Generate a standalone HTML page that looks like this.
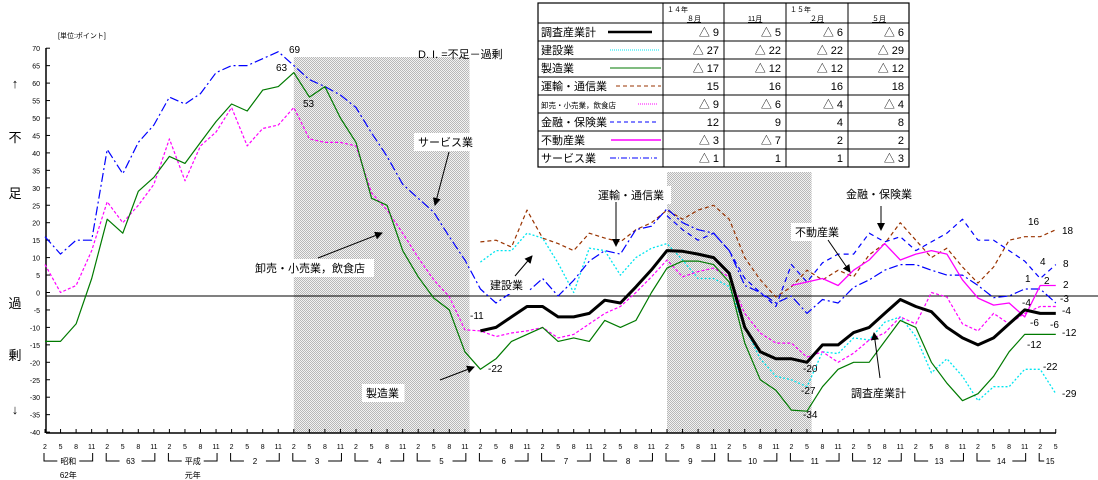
<!DOCTYPE html>
<html><head><meta charset="utf-8">
<style>
html,body{margin:0;padding:0;background:#fff;}
svg{display:block;font-family:"Liberation Sans","Noto Sans CJK JP",sans-serif;}
</style></head>
<body>
<svg id="chart" width="1098" height="480" viewBox="0 0 1098 480" xmlns="http://www.w3.org/2000/svg">
<defs>
<pattern id="shade" width="2" height="2" patternUnits="userSpaceOnUse">
<rect width="2" height="2" fill="#f2f2f2"/><rect width="1" height="1" fill="#b8b8b8"/><rect x="1" y="1" width="1" height="1" fill="#b8b8b8"/>
</pattern>
<marker id="ah" markerWidth="8" markerHeight="8" refX="7" refY="4" orient="auto" markerUnits="userSpaceOnUse"><path d="M0,0 L8,4 L0,8 z" fill="#000"/></marker>
</defs>
<g id="shades"></g>
<g id="axes"></g>
<g id="series"></g>
<g id="labels" font-size="11"></g>
</svg>
<script>
const NS="http://www.w3.org/2000/svg";
// ---- data ----
const yearLabels=["昭和","63","平成","2","3","4","5","6","7","8","9","10","11","12","13","14","15"];
const monthLabels=["2","5","8","11"];
const yTicks=[70,65,60,55,50,45,40,35,30,25,20,15,10,5,0,-5,-10,-15,-20,-25,-30,-35,-40];
const N=null;
const totalVals=[N,N,N,N,N,N,N,N,N,N,N,N,N,N,N,N,N,N,N,N,N,N,N,N,N,N,N,N,-11,-10,-7,-4,-4,-7,-7,-6,-2.2,-3,1.6,6.5,12,11.8,11,10,5.5,-10,-17,-19,-19,-20,-15,-15,-11.5,-10,-6,-2,-4,-5.5,-10,-13,-15,-13,-9,-5,-6,-6];
const constructionVals=[N,N,N,N,N,N,N,N,N,N,N,N,N,N,N,N,N,N,N,N,N,N,N,N,N,N,N,N,8.7,12,12,17,15.6,8.4,0,12.7,12,5,10,12.7,14,9.3,4,4,1.7,-10,-19,-24,-25,-27,-17,-17.5,-13,-13.6,-8.5,-7,-12.6,-23,-19,-24,-31,-27,-27,-22,-22,-29];
const manufacturingVals=[-14,-14,-9,4,21,17,29,33,39,37,43,49,54,52,58,59,63,56,59,50,43,27,25,12,4.5,-1.6,-5,-17,-22,-19,-14,-12,-10,-14,-13,-14,-8,-10,-8,0,7,9,9,8,3,-14.5,-25,-28,-33.7,-34,-27,-22,-20,-20,-14,-8,-10,-20,-26,-31,-29,-24,-17,-12,-12,-12];
const transportVals=[N,N,N,N,N,N,N,N,N,N,N,N,N,N,N,N,N,N,N,N,N,N,N,N,N,N,N,N,14.5,15,13,23.6,15.6,14,12,17,15.6,14.5,18,20,23.6,21,23.6,25,21,10,3.6,-1.3,1.6,6.4,3.6,6.4,4.5,10.8,14,20,15,10,12.7,7.3,2.7,7.3,15,16,16,18];
const wholesaleVals=[8,0,2,12,26,20,25,31,44,32,42,46,53,42,47,48,53,44,43,43,42,28.5,23.6,17,10,3.6,-1.2,-10.7,-11,-12.6,-11.6,-11,-10,-13,-12,-9,-6,-4,0,4.5,9.3,4.5,6,7,4.5,-6,-11.6,-14.5,-14.5,-18.5,-17,-20,-17.4,-13.6,-11.6,-7,-9,0,-1.3,-9,-11,-6,-9,-6,-4,-4];
const financeVals=[N,N,N,N,N,N,N,N,N,N,N,N,N,N,N,N,N,N,N,N,N,N,N,N,N,N,N,N,N,N,N,N,N,N,N,N,N,N,N,N,22,18,15,17,12,4,0,-4,8,3,8.5,11,11,17,14.5,16,12,14.5,17,21,15,15,12,9,4,8];
const realEstateVals=[N,N,N,N,N,N,N,N,N,N,N,N,N,N,N,N,N,N,N,N,N,N,N,N,N,N,N,N,N,N,N,N,N,N,N,N,N,N,N,N,N,N,N,N,N,N,N,N,2,3,4,2,6.4,9.3,14,9.3,11,12,11,3.6,-1.6,-3.6,-3,-7,2,2];
const serviceVals=[16,11,15,15,41,34,43,48,56,54,57,63,65,65,67,69,65,61,59,56.6,53,45.7,39,31,27,23,16,9.3,1,-3,0,0,4,-1,3.5,9,12,11,18,19,24,20,18,17,12,2,0,-3,-1,-6,-2,-3,1.5,3.6,6.4,8,8,6.4,5,5,2,-1.5,-1,1,1,-3];
const shadeRanges=[[16,27.3],[40,49.3]];
const tableRows=["調査産業計","建設業","製造業","運輸・通信業","卸売・小売業，飲食店","金融・保険業","不動産業","サービス業"];
const tableVals=[["△ 9","△ 5","△ 6","△ 6"],["△ 27","△ 22","△ 22","△ 29"],["△ 17","△ 12","△ 12","△ 12"],["15","16","16","18"],["△ 9","△ 6","△ 4","△ 4"],["12","9","4","8"],["△ 3","△ 7","2","2"],["△ 1","1","1","△ 3"]];

// ---- scales ----
function x(i){return 45+i*15.55;}
function y(v){return 292.5-3.49*v;}
function mk(tag,attrs,parent,text){const e=document.createElementNS(NS,tag);for(const k in attrs)e.setAttribute(k,attrs[k]);if(text!==undefined)e.textContent=text;parent.appendChild(e);return e;}
const svg=document.getElementById('chart');
const gS=document.getElementById('shades'),gA=document.getElementById('axes'),gL=document.getElementById('series'),gT=document.getElementById('labels');

// shading
shadeRanges.forEach((r,k)=>{
 const top=k===0?57:172;
 const e=mk('rect',{x:x(r[0]),y:top,width:x(r[1])-x(r[0]),height:433-top,fill:'url(#shade)'},gS);
 
 
});

// axes
let e=mk('line',{x1:46,y1:48,x2:46,y2:433,stroke:'#000','stroke-width':1.5},gA);

e=mk('line',{x1:46,y1:433,x2:1056,y2:433,stroke:'#000','stroke-width':1.5},gA);

e=mk('line',{x1:46,y1:296,x2:1098,y2:296,stroke:'#000','stroke-width':1},gA);

yTicks.forEach(v=>{
 mk('line',{x1:46,y1:y(v),x2:50,y2:y(v),stroke:'#000'},gA);
 const t=mk('text',{x:40,y:y(v)+3,'font-size':7,'text-anchor':'end'},gA,String(v));
 
});
for(let i=0;i<66;i++){
 mk('line',{x1:x(i),y1:433,x2:x(i),y2:429,stroke:'#000'},gA);
 const t=mk('text',{x:x(i),y:449,'font-size':7,'text-anchor':'middle'},gA,monthLabels[i%4]);
 
}
yearLabels.forEach((lab,k)=>{
 const a=x(4*k)-1,b=k===16?x(65)+2:x(4*k+3)+1,m=(a+b)/2;
 const g=mk('g',{},gA);
 
 if(k===16){
  mk('path',{d:`M${a},453 V461 H${a+5}`,stroke:'#000',fill:'none'},g);
  mk('text',{x:a+11,y:464,'font-size':8,'text-anchor':'middle'},g,lab);
 } else {
  mk('path',{d:`M${a},453 V461 H${m-11} M${m+11},461 H${b} V453`,stroke:'#000',fill:'none'},g);
  mk('text',{x:m,y:464,'font-size':8,'text-anchor':'middle'},g,lab);
 }
});
mk('text',{x:x(1.5),y:478,'font-size':8,'text-anchor':'middle'},gA,"62年");
mk('text',{x:x(9.5),y:478,'font-size':8,'text-anchor':'middle'},gA,"元年");

// series
function line(vals,name,stroke,w,dash){
 let d='',pen=false;
 vals.forEach((v,i)=>{if(v===null){pen=false;return;}d+=(pen?'L':'M')+x(i).toFixed(1)+','+y(v).toFixed(1);pen=true;});
 const p=mk('path',{d:d,stroke:stroke,'stroke-width':w,fill:'none','stroke-dasharray':dash||'none','stroke-linejoin':'round'},gL);
 
 
}
line(constructionVals,'construction-line','#00e5f0',1.3,'2,2');
line(transportVals,'transport-line','#993300',1.2,'4,3');
line(wholesaleVals,'wholesale-line','#ff00ff',1.2,'3,2');
line(financeVals,'finance-line','#0000ff',1.2,'5,4');
line(serviceVals,'service-line','#0000ff',1.2,'9,3,2,3');
line(realEstateVals,'real-estate-line','#ff00ff',1.3);
line(manufacturingVals,'manufacturing-line','#007a00',1.2);
line(totalVals,'total-line','#000',3);

// text labels
function txt(xx,yy,s,name,size,anchor){const t=mk('text',{x:xx,y:yy,'font-size':size||11,'text-anchor':anchor||'start'},gT,s);return t;}
txt(58,38,"[単位:ポイント]",'unit-label',7);
txt(418,58,"D. I. =不足－過剰",'di-definition',11);
[["↑",88],["不",142],["足",198],["過",308],["剰",360],["↓",414]].forEach(a=>txt(15,a[1],a[0],'y-axis-title',13,'middle'));
[["69",289,53],["63",276,71],["53",303,107],["-11",470,319],["-22",488,372],["-20",803,372],["-27",801,394],["-34",803,418],["16",1028,225],["18",1062,234],["4",1040,265],["8",1063,267],["1",1025,282],["2",1044,284],["2",1063,288],["-3",1060,302],["-4",1022,306],["-4",1062,314],["-6",1030,326],["-6",1050,328],["-12",1062,336],["-12",1027,348],["-22",1043,370],["-29",1062,397]].forEach(a=>txt(a[1],a[2],a[0],'data-label',10));
// callouts
function arrow(x1,y1,x2,y2){const l=mk('line',{x1:x1,y1:y1,x2:x2,y2:y2,stroke:'#000','stroke-width':1,'marker-end':'url(#ah)'},gT);}
function callout(xx,yy,s,name){mk('rect',{x:xx-4,y:yy-13,width:s.length*11.5+8,height:18,fill:'#fff'},gT);txt(xx,yy,s,name,11);}
callout(418,146,"サービス業",'service-callout');arrow(449,152,435,205);
callout(255,272,"卸売・小売業，飲食店",'wholesale-callout');arrow(318,258,382,233);
callout(366,397,"製造業",'manufacturing-callout');arrow(440,380,474,367);
callout(490,289,"建設業",'construction-callout');arrow(515,276,532,256);
callout(598,199,"運輸・通信業",'transport-callout');arrow(616,202,616,246);
callout(846,198,"金融・保険業",'finance-callout');arrow(881,206,881,230);
callout(795,236,"不動産業",'real-estate-callout');arrow(828,240,850,272);
callout(851,397,"調査産業計",'total-callout');arrow(880,378,874,333);

// legend table
const tg=mk('g',{},svg);

const colX=[538,663,724,786,848,909],rowY=[3,23,41,59,77,95,113,131,149,167];
mk('rect',{x:538,y:3,width:371,height:164,fill:'#fff',stroke:'#000','stroke-width':1.2},tg);
colX.slice(1,5).forEach(cx=>mk('line',{x1:cx,y1:3,x2:cx,y2:167,stroke:'#000'},tg));
rowY.slice(1,9).forEach(ry=>mk('line',{x1:538,y1:ry,x2:909,y2:ry,stroke:'#000'},tg));
const hdr=[["１４年","８月"],["","11月"],["１５年","２月"],["","５月"]];
hdr.forEach((h,c)=>{
 if(h[0])mk('text',{x:colX[c+1]+4,y:12,'font-size':7},tg,h[0]);
 mk('text',{x:colX[c+1]+24,y:21,'font-size':7,'text-decoration':'underline'},tg,h[1]);
});
const legStyles=[['#000',2.5,'none',608,652],['#00e5f0',1,'1,1',610,660],['#007a00',1,'none',610,661],['#993300',1,'4,3',616,661],['#ff00ff',1,'1,1',638,657],['#0000ff',1,'4,3',610,657],['#ff00ff',1.5,'none',611,661],['#0000ff',1,'6,2,1,2',610,657]];
tableRows.forEach((r,k)=>{
 const ry=rowY[k+1],cy=ry+9;
 const row=mk('g',{},tg);
 
 mk('text',{x:541,y:cy+4,'font-size':k===4?7.5:11},row,r);
 const s=legStyles[k];
 mk('line',{x1:s[3],y1:cy,x2:s[4],y2:cy,stroke:s[0],'stroke-width':s[1],'stroke-dasharray':s[2]},row);
 tableVals[k].forEach((v,c)=>mk('text',{x:colX[c+2]-5,y:cy+4,'font-size':11,'text-anchor':'end'},row,v));
});
</script>
</body></html>
